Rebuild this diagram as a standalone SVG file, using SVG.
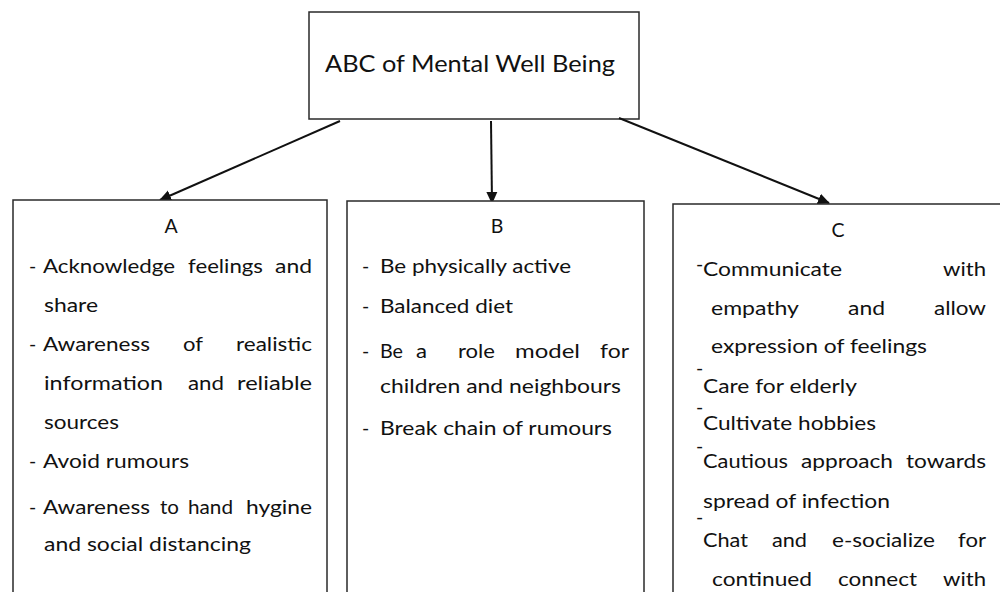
<svg xmlns="http://www.w3.org/2000/svg" width="1000" height="592" viewBox="0 0 1000 592">
<style>
.box{fill:#fff;stroke:#2a2a2a;stroke-width:1.5}
.t{font-family:Lato,"Open Sans","Liberation Sans",sans-serif;font-size:19.5px;fill:#111}
.h{font-family:Lato,"Open Sans","Liberation Sans",sans-serif;font-size:19.5px;fill:#111;text-anchor:middle}
.ti{font-family:Lato,"Open Sans","Liberation Sans",sans-serif;font-size:24px;fill:#111}
.c{stroke:#111;stroke-width:2;fill:none}
</style>
<defs>
<marker id="ah" markerUnits="userSpaceOnUse" markerWidth="12" markerHeight="12" refX="11" refY="6" orient="auto">
<path d="M0,0.5 L12,6 L0,11.5 Z" fill="#111"/>
</marker>
</defs>
<rect width="1000" height="592" fill="#fff"/>
<g id="root">
<rect class="box" x="309" y="12" width="330" height="107"/>
<text class="ti" x="325" y="72" textLength="290" lengthAdjust="spacingAndGlyphs">ABC of Mental Well Being</text>
</g>
<g id="connectors">
<line class="c" x1="340" y1="121" x2="160" y2="200" marker-end="url(#ah)"/>
<line class="c" x1="491" y1="121" x2="492" y2="203" marker-end="url(#ah)"/>
<line class="c" x1="619" y1="118" x2="829" y2="203" marker-end="url(#ah)"/>
</g>
<g id="nodeA">
<rect class="box" x="13" y="200" width="314" height="410"/>
<text class="h" x="171" y="233">A</text>
<text class="t" x="29" y="273">-</text>
<text class="t" x="43" y="273" textLength="132" lengthAdjust="spacingAndGlyphs">Acknowledge</text>
<text class="t" x="188" y="273" textLength="75" lengthAdjust="spacingAndGlyphs">feelings</text>
<text class="t" x="275" y="273" textLength="37" lengthAdjust="spacingAndGlyphs">and</text>
<text class="t" x="44" y="312" textLength="54" lengthAdjust="spacingAndGlyphs">share</text>
<text class="t" x="29" y="351">-</text>
<text class="t" x="43" y="351" textLength="107" lengthAdjust="spacingAndGlyphs">Awareness</text>
<text class="t" x="183" y="351" textLength="20" lengthAdjust="spacingAndGlyphs">of</text>
<text class="t" x="236" y="351" textLength="76" lengthAdjust="spacingAndGlyphs">realistic</text>
<text class="t" x="44" y="390" textLength="119" lengthAdjust="spacingAndGlyphs">information</text>
<text class="t" x="188" y="390" textLength="36" lengthAdjust="spacingAndGlyphs">and</text>
<text class="t" x="237" y="390" textLength="75" lengthAdjust="spacingAndGlyphs">reliable</text>
<text class="t" x="44" y="429" textLength="75" lengthAdjust="spacingAndGlyphs">sources</text>
<text class="t" x="29" y="468">-</text>
<text class="t" x="43" y="468" textLength="146" lengthAdjust="spacingAndGlyphs">Avoid rumours</text>
<text class="t" x="29" y="514">-</text>
<text class="t" x="43" y="514" textLength="107" lengthAdjust="spacingAndGlyphs">Awareness</text>
<text class="t" x="160" y="514" textLength="19" lengthAdjust="spacingAndGlyphs">to</text>
<text class="t" x="188" y="514" textLength="45" lengthAdjust="spacingAndGlyphs">hand</text>
<text class="t" x="246" y="514" textLength="66" lengthAdjust="spacingAndGlyphs">hygine</text>
<text class="t" x="44" y="551" textLength="207" lengthAdjust="spacingAndGlyphs">and social distancing</text>
</g>
<g id="nodeB">
<rect class="box" x="347" y="201" width="297" height="410"/>
<text class="h" x="497" y="233">B</text>
<text class="t" x="362" y="273">-</text>
<text class="t" x="380" y="273" textLength="191" lengthAdjust="spacingAndGlyphs">Be physically active</text>
<text class="t" x="362" y="313">-</text>
<text class="t" x="380" y="313" textLength="133" lengthAdjust="spacingAndGlyphs">Balanced diet</text>
<text class="t" x="362" y="358">-</text>
<text class="t" x="380" y="358" textLength="23" lengthAdjust="spacingAndGlyphs">Be</text>
<text class="t" x="416" y="358" textLength="11" lengthAdjust="spacingAndGlyphs">a</text>
<text class="t" x="458" y="358" textLength="37" lengthAdjust="spacingAndGlyphs">role</text>
<text class="t" x="515" y="358" textLength="65" lengthAdjust="spacingAndGlyphs">model</text>
<text class="t" x="600" y="358" textLength="29" lengthAdjust="spacingAndGlyphs">for</text>
<text class="t" x="380" y="393" textLength="241" lengthAdjust="spacingAndGlyphs">children and neighbours</text>
<text class="t" x="362" y="435">-</text>
<text class="t" x="380" y="435" textLength="232" lengthAdjust="spacingAndGlyphs">Break chain of rumours</text>
</g>
<g id="nodeC">
<rect class="box" x="673" y="204" width="340" height="410"/>
<text class="h" x="838" y="237">C</text>
<text class="t" x="696" y="271">-</text>
<text class="t" x="703" y="276" textLength="139" lengthAdjust="spacingAndGlyphs">Communicate</text>
<text class="t" x="943" y="276" textLength="43" lengthAdjust="spacingAndGlyphs">with</text>
<text class="t" x="711" y="315" textLength="88" lengthAdjust="spacingAndGlyphs">empathy</text>
<text class="t" x="848" y="315" textLength="37" lengthAdjust="spacingAndGlyphs">and</text>
<text class="t" x="934" y="315" textLength="52" lengthAdjust="spacingAndGlyphs">allow</text>
<text class="t" x="711" y="353" textLength="216" lengthAdjust="spacingAndGlyphs">expression of feelings</text>
<text class="t" x="696" y="375">-</text>
<text class="t" x="703" y="393" textLength="154" lengthAdjust="spacingAndGlyphs">Care for elderly</text>
<text class="t" x="696" y="414">-</text>
<text class="t" x="703" y="430" textLength="173" lengthAdjust="spacingAndGlyphs">Cultivate hobbies</text>
<text class="t" x="696" y="453">-</text>
<text class="t" x="703" y="468" textLength="85" lengthAdjust="spacingAndGlyphs">Cautious</text>
<text class="t" x="801" y="468" textLength="92" lengthAdjust="spacingAndGlyphs">approach</text>
<text class="t" x="906" y="468" textLength="80" lengthAdjust="spacingAndGlyphs">towards</text>
<text class="t" x="703" y="508" textLength="187" lengthAdjust="spacingAndGlyphs">spread of infection</text>
<text class="t" x="696" y="524">-</text>
<text class="t" x="703" y="547" textLength="45" lengthAdjust="spacingAndGlyphs">Chat</text>
<text class="t" x="772" y="547" textLength="35" lengthAdjust="spacingAndGlyphs">and</text>
<text class="t" x="832" y="547" textLength="103" lengthAdjust="spacingAndGlyphs">e-socialize</text>
<text class="t" x="958" y="547" textLength="28" lengthAdjust="spacingAndGlyphs">for</text>
<text class="t" x="712" y="586" textLength="100" lengthAdjust="spacingAndGlyphs">continued</text>
<text class="t" x="838" y="586" textLength="79" lengthAdjust="spacingAndGlyphs">connect</text>
<text class="t" x="943" y="586" textLength="43" lengthAdjust="spacingAndGlyphs">with</text>
</g>
</svg>
